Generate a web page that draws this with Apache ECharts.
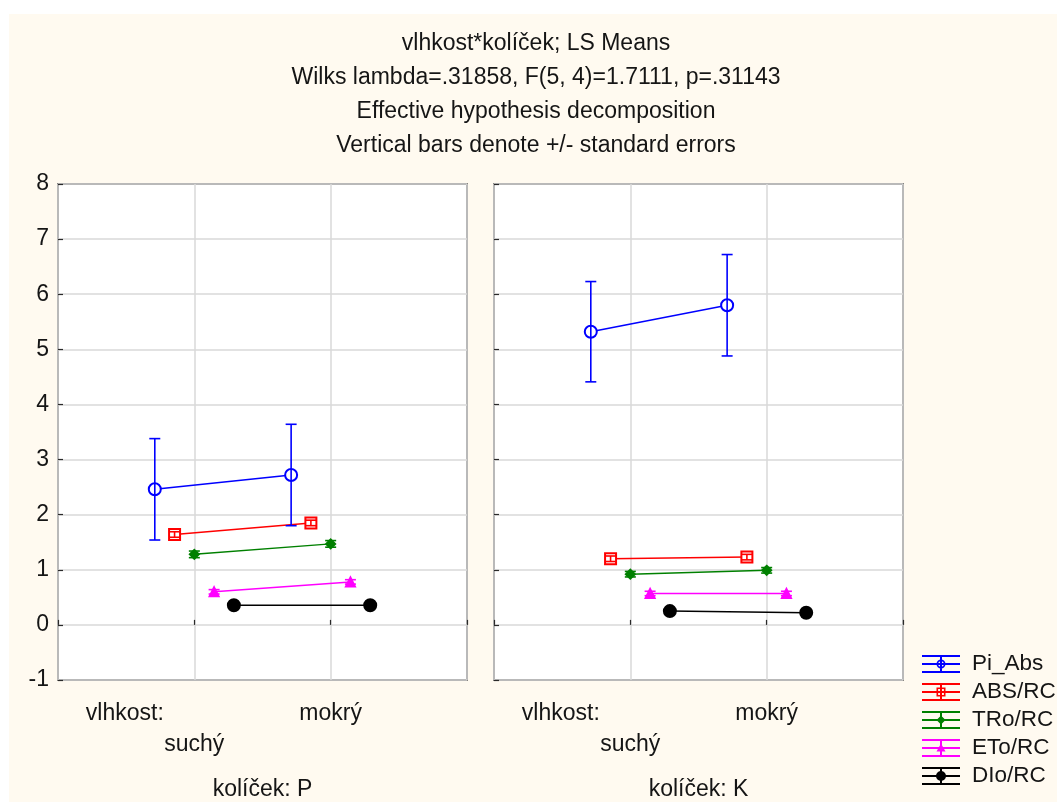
<!DOCTYPE html>
<html><head><meta charset="utf-8">
<script src="https://cdn.jsdelivr.net/npm/echarts@6/dist/echarts.min.js"></script>
<style>html,body{margin:0;padding:0;background:#fff}#c{width:1057px;height:802px}</style>
</head><body><div id="c"></div>
<script>
// ---- data ----
const titleLines = [
  'vlhkost*kolíček; LS Means',
  'Wilks lambda=.31858, F(5, 4)=1.7111, p=.31143',
  'Effective hypothesis decomposition',
  'Vertical bars denote +/- standard errors'
];
const categories = ['suchý', 'mokrý'];
const factorLabel = 'vlhkost:';
const panelLabels = ['kolíček: P', 'kolíček: K'];
const seriesNames = ['Pi_Abs', 'ABS/RC', 'TRo/RC', 'ETo/RC', 'DIo/RC'];
// means per series [suchý, mokrý]
const meansP = [[2.46, 2.72], [1.64, 1.85], [1.28, 1.47], [0.60, 0.78], [0.355, 0.355]];
const seP    = [[0.92, 0.92], [0.05, 0.05], [0.06, 0.06], [0.04, 0.04], [0.02, 0.02]];
const meansK = [[5.32, 5.80], [1.20, 1.23], [0.92, 0.99], [0.57, 0.57], [0.25, 0.22]];
const seK    = [[0.91, 0.92], [0.05, 0.05], [0.05, 0.05], [0.04, 0.04], [0.02, 0.02]];
const yMin = -1, yMax = 8, yStep = 1;

// ---- style ----
const colors = ['#0000ff', '#ff0000', '#008000', '#ff00ff', '#000000'];
const jitter = [-0.29, -0.145, 0, 0.145, 0.29];
const symbols = ['emptyCircle', 'emptyRect', 'diamond', 'triangle', 'circle'];
const symbolSizes = [12, 11, 9, 9, 12];
const FONT = 'Liberation Sans, Arial, sans-serif';
const FS = 23;
const TXT = '#151515';
const base = 'M0 0H38V2H0Z M0 8H38V10H0Z M0 16H38V18H0Z M18 0H20V18H18Z ';
const legendIcons = [
  'path://' + base + 'M14.5 9A4.5 4.5 0 1 1 23.5 9A4.5 4.5 0 1 1 14.5 9Z M16.2 9A2.8 2.8 0 1 0 21.8 9A2.8 2.8 0 1 0 16.2 9Z',
  'path://' + base + 'M14.5 4.5H23.5V13.5H14.5Z M16.1 6.1V11.9H21.9V6.1Z',
  'path://' + base + 'M19 4.5L23.5 9L19 13.5L14.5 9Z',
  'path://' + base + 'M19 4.5L23.5 12.5H14.5Z',
  'path://' + base + 'M14 9A5 5 0 1 1 24 9A5 5 0 1 1 14 9Z'
];

const panels = [{means: meansP, se: seP}, {means: meansK, se: seK}];
const grids = [
  {left: 58, top: 184, width: 409, height: 496},
  {left: 494, top: 184, width: 409, height: 496}
].map(g => Object.assign(g, {show: true, backgroundColor: '#ffffff', borderColor: '#2a2a2a', borderWidth: 1.5,
  containLabel: false, outerBoundsMode: 'none'}));

const xAxes = panelLabels.map((name, i) => ({
  type: 'value', gridIndex: i, min: 0, max: categories.length + 1, interval: 1,
  axisLine: {show: false},
  axisTick: {show: true, inside: true, length: 5, lineStyle: {color: '#2a2a2a', width: 1.2}},
  splitLine: {show: true, lineStyle: {color: '#d9d9d9', width: 1.5}},
  axisLabel: {
    customValues: [0.49, 1, 2], hideOverlap: false,
    formatter: v => v < 1 ? factorLabel : (v === 1 ? '\n' + categories[0] : categories[v - 1]),
    fontSize: FS, fontFamily: FONT, color: TXT, lineHeight: 31, margin: 18
  },
  name: name, nameLocation: 'middle', nameGap: 98, nameMoveOverlap: false,
  nameTextStyle: {fontSize: FS, fontFamily: FONT, color: TXT}
}));
const yAxes = panelLabels.map((n, i) => ({
  type: 'value', gridIndex: i, min: yMin, max: yMax, interval: yStep,
  axisLine: {show: false},
  axisTick: {show: true, inside: true, length: 5, lineStyle: {color: '#2a2a2a', width: 1.2}},
  splitLine: {show: true, lineStyle: {color: '#d9d9d9', width: 1.5}},
  axisLabel: {show: i === 0, fontSize: FS, fontFamily: FONT, color: TXT, margin: 9}
}));

const series = [];
panels.forEach((p, gi) => {
  seriesNames.forEach((name, si) => {
    series.push({
      type: 'line', name: name, xAxisIndex: gi, yAxisIndex: gi,
      data: p.means[si].map((v, ci) => [ci + 1 + jitter[si], v]),
      symbol: symbols[si], symbolSize: symbolSizes[si],
      lineStyle: {color: colors[si], width: 1.5},
      itemStyle: {color: colors[si], borderColor: colors[si], borderWidth: 2},
      z: 3, silent: true
    });
  });
});
panels.forEach((p, gi) => {
  seriesNames.forEach((name, si) => {
    const c = colors[si];
    series.push({
      type: 'custom', xAxisIndex: gi, yAxisIndex: gi, z: 4, silent: true,
      data: p.means[si].map((v, ci) => [ci + 1 + jitter[si], v - p.se[si][ci], v + p.se[si][ci]]),
      encode: {x: 0, y: [1, 2]},
      renderItem: (params, api) => {
        const x = api.value(0);
        const a = api.coord([x, api.value(1)]);
        const b = api.coord([x, api.value(2)]);
        const hw = 5.5;
        const st = {stroke: c, lineWidth: 1.6};
        return {type: 'group', children: [
          {type: 'line', shape: {x1: a[0], y1: a[1], x2: b[0], y2: b[1]}, style: st},
          {type: 'line', shape: {x1: a[0] - hw, y1: a[1], x2: a[0] + hw, y2: a[1]}, style: st},
          {type: 'line', shape: {x1: b[0] - hw, y1: b[1], x2: b[0] + hw, y2: b[1]}, style: st}
        ]};
      }
    });
  });
});

const chart = echarts.init(document.getElementById('c'), null, {renderer: 'canvas'});
chart.setOption({
  animation: false,
  backgroundColor: '#ffffff',
  graphic: [{type: 'rect', left: 9, top: 14, shape: {width: 1048, height: 788}, style: {fill: '#fffaf0'}, z: -10, silent: true}],
  title: {
    text: titleLines.join('\n'), left: 536, top: 27, textAlign: 'center', padding: 0,
    textStyle: {fontSize: FS, fontWeight: 'normal', fontFamily: FONT, color: TXT, lineHeight: 34}
  },
  legend: {
    orient: 'vertical', left: 922, top: 652, padding: 0,
    itemWidth: 38, itemHeight: 18, itemGap: 4,
    textStyle: {fontSize: 22.5, fontFamily: FONT, color: TXT, lineHeight: 24, padding: [0, 0, 0, 7]},
    data: seriesNames.map((n, i) => ({name: n, icon: legendIcons[i], itemStyle: {color: colors[i], borderWidth: 0}}))
  },
  grid: grids, xAxis: xAxes, yAxis: yAxes, series: series
});
</script></body></html>
